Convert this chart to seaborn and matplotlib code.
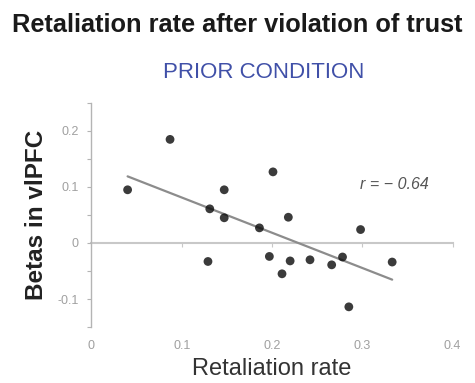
import matplotlib
matplotlib.use("Agg")
import matplotlib.pyplot as plt
import seaborn as sns
import numpy as np
import pandas as pd
from matplotlib.ticker import MultipleLocator, FixedLocator

# ---- data ----
retaliation_rate = [0.040, 0.087, 0.201, 0.147, 0.131, 0.147, 0.186, 0.218, 0.298,
                    0.129, 0.197, 0.220, 0.242, 0.211, 0.266, 0.278, 0.333, 0.285]
betas_vlpfc = [0.095, 0.185, 0.127, 0.095, 0.061, 0.045, 0.027, 0.046, 0.024,
               -0.033, -0.024, -0.032, -0.030, -0.055, -0.039, -0.025, -0.034, -0.114]
x_ticks = [0, 0.1, 0.2, 0.3, 0.4]
x_tick_labels = ["0", "0.1", "0.2", "0.3", "0.4"]
y_ticks = [0.2, 0.1, 0, -0.1]
y_tick_labels = ["0.2", "0.1", "0", "-0.1"]
r_label = "r = \u2212 0.64"

df = pd.DataFrame({"Retaliation rate": retaliation_rate, "Betas in vlPFC": betas_vlpfc})

sns.set_theme(style="white")
plt.rcParams["font.family"] = ["Liberation Sans", "DejaVu Sans"]

fig = plt.figure(figsize=(4.75, 3.83), dpi=100)
ax = fig.add_axes([0.1926, 0.1462, 0.7604, 0.5849])

sns.regplot(data=df, x="Retaliation rate", y="Betas in vlPFC", ax=ax, ci=None,
            scatter_kws=dict(s=40, color="#0a0a0a", edgecolor="none", zorder=3),
            line_kws=dict(color="#8c8c8c", lw=1.6, zorder=2))

ax.set_xlim(0, 0.4)
ax.set_ylim(-0.15, 0.25)

for s in ["top", "right", "bottom"]:
    ax.spines[s].set_visible(False)
ax.spines["left"].set_color("#b4b4b4")
ax.spines["left"].set_linewidth(1.0)

# zero line with small ticks
ymin, ymax = ax.get_ylim()
zero_frac = (0 - ymin) / (ymax - ymin)
sec = ax.secondary_xaxis(zero_frac)
sec.spines["bottom"].set_color("#c8c8c8")
sec.spines["bottom"].set_linewidth(1.5)
sec.set_xticks(x_ticks[1:])
sec.tick_params(axis="x", length=3, width=0.8, color="#c8c8c8", direction="out",
                labelbottom=False)

ax.yaxis.set_major_locator(FixedLocator(y_ticks))
ax.set_yticklabels(y_tick_labels)
ax.yaxis.set_minor_locator(MultipleLocator(0.05))
ax.tick_params(axis="y", which="both", left=True, length=3, width=0.8, color="#b4b4b4",
               labelsize=9, labelcolor="#a0a0a0", pad=6)

ax.set_xticks(x_ticks)
ax.set_xticklabels(x_tick_labels)
ax.tick_params(axis="x", bottom=False, labelsize=9, labelcolor="#a0a0a0", pad=3)

ax.set_xlabel("Retaliation rate", fontsize=17, color="#333333", labelpad=5)
ax.set_ylabel("Betas in vlPFC", fontsize=17.5, fontweight="bold", color="#222222", labelpad=7)

ax.text(0.297, 0.105, r_label, fontsize=11.5, style="italic", color="#555555",
        ha="left", va="center")

fig.text(0.5, 1 - 25 / 383, "Retaliation rate after violation of trust",
         ha="center", va="center", fontsize=18.3, fontweight="bold", color="#1a1a1a")
fig.text(264 / 475, 1 - 72.5 / 383, "PRIOR CONDITION", ha="center", va="center",
         fontsize=16, color="#4050a8")

fig.savefig("out.png", dpi=100)
